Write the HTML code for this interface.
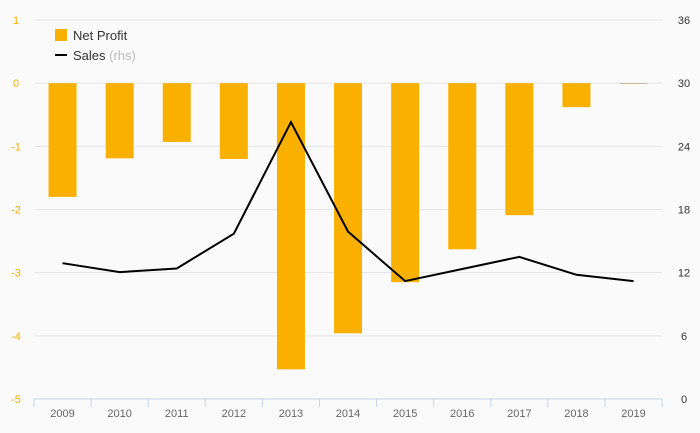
<!DOCTYPE html>
<html><head><meta charset="utf-8"><style>
body{margin:0;background:#fafafa;}
svg{display:block;font-family:"Liberation Sans","DejaVu Sans",sans-serif;}
</style></head><body>
<svg id="chart" width="700" height="433">
<rect width="700" height="433" fill="#fafafa"/>
<g id="grid"></g>
<g id="bars"></g>
<g id="line"></g>
<g id="axes"></g>
<g>
<g>
<rect x="55" y="29" width="12" height="12" fill="#f9b000"/>
<text x="73" y="40" font-size="13" fill="#333">Net Profit</text></g>
<g>
<line x1="55" y1="55" x2="67" y2="55" stroke="#000" stroke-width="2"/>
<text x="73" y="60" font-size="13" fill="#333">Sales <tspan fill="#bbb">(rhs)</tspan></text></g>
</g>
</svg>
<script>
const years=["2009","2010","2011","2012","2013","2014","2015","2016","2017","2018","2019"];
const netProfit=[-1.8,-1.19,-0.93,-1.2,-4.53,-3.96,-3.15,-2.63,-2.09,-0.38,-0.01];
const sales=[12.9,12.05,12.4,15.7,26.3,15.9,11.2,12.35,13.5,11.8,11.2];
const leftTicks=[1,0,-1,-2,-3,-4,-5];
const rightTicks=[36,30,24,18,12,6,0];
const NS="http://www.w3.org/2000/svg";
const x0=34,step=57.1,yTop=20,yBottom=399;
const yL=v=>yTop+(1-v)/6*(yBottom-yTop);
const yR=v=>yBottom-v/36*(yBottom-yTop);
const xC=i=>x0+step*(i+0.5);
function mk(t,a,p){const e=document.createElementNS(NS,t);for(const k in a)e.setAttribute(k,a[k]);p.appendChild(e);return e;}
const grid=document.getElementById('grid'),bars=document.getElementById('bars'),line=document.getElementById('line'),axes=document.getElementById('axes');
leftTicks.forEach(v=>{
  if(v>-5){const g=mk('line',{x1:35,x2:662,y1:yL(v),y2:yL(v),stroke:'#e6e6e6','stroke-width':1},grid);
  
  }
  const t=mk('text',{x:16,y:yL(v)+4,'font-size':11,fill:'#f9b000','text-anchor':'middle'},axes);t.textContent=v;
  
  
});
rightTicks.forEach(v=>{
  const t=mk('text',{x:684,y:yR(v)+4,'font-size':11,fill:'#333','text-anchor':'middle'},axes);t.textContent=v;
  
  
});
netProfit.forEach((v,i)=>{
  const y1=yL(0),y2=yL(v);
  const r=mk('rect',{x:xC(i)-14,y:Math.min(y1,y2),width:28,height:Math.max(Math.abs(y2-y1),0.6),fill:v>-0.05?'#b0a080':'#f9b000'},bars);
  
  
});
const pl=mk('polyline',{points:sales.map((v,i)=>xC(i)+','+yR(v)).join(' '),fill:'none',stroke:'#000','stroke-width':2},line);


const ax=mk('line',{x1:34,x2:662,y1:yBottom,y2:yBottom,stroke:'#c8d4e8','stroke-width':1},axes);


for(let i=0;i<=years.length;i++){
  const tk=mk('line',{x1:x0+step*i,x2:x0+step*i,y1:yBottom,y2:yBottom+8,stroke:'#c8d4e8','stroke-width':1},axes);
  
  
}
years.forEach((y,i)=>{
  const t=mk('text',{x:xC(i),y:417,'font-size':11,fill:'#666','text-anchor':'middle'},axes);t.textContent=y;
  
  
});
</script>
</body></html>
